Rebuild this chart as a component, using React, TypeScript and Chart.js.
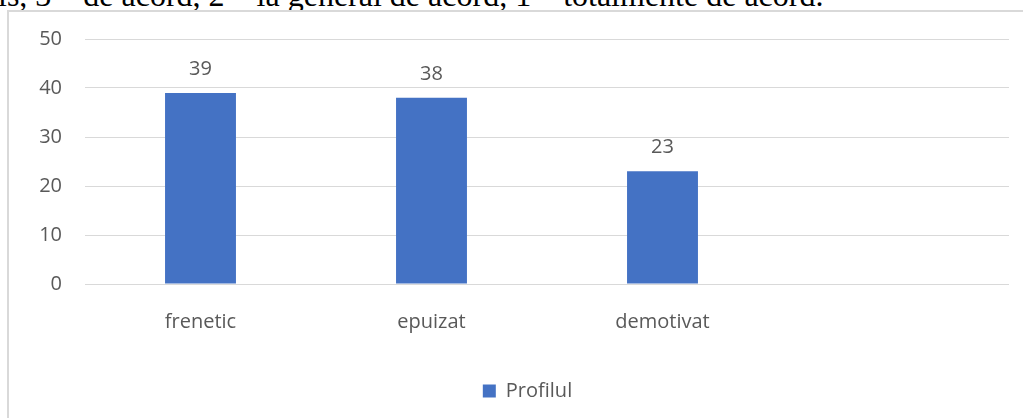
import React, { useEffect, useRef } from "react";
import { Chart, registerables } from "chart.js";

Chart.register(...registerables);

const categories: string[] = ["frenetic", "epuizat", "demotivat", ""];
const profilulValues: (number | null)[] = [39, 38, 23, null];
const seriesLabel = "Profilul";
const yTicksMin = 0;
const yTicksMax = 50;
const yTickStep = 10;
const headerText = "ls, 3 – de acord, 2 – la general de acord, 1 – totalmente de acord.";

const TEXT_GRAY = "#595959";
const GRID_GRAY = "#d9d9d9";
const BAR_BLUE = "#4472C4";
const FONT_FAMILY = "'Open Sans', 'Noto Sans', sans-serif";
const LEGEND_SHIFT = 23;

const valueLabelPlugin = {
  id: "valueLabels",
  afterDatasetsDraw(chart: any) {
    const ctx = chart.ctx;
    ctx.save();
    ctx.fillStyle = TEXT_GRAY;
    ctx.font = `20px ${FONT_FAMILY}`;
    ctx.textAlign = "center";
    ctx.textBaseline = "middle";
    chart.data.datasets.forEach((ds: any, di: number) => {
      const meta = chart.getDatasetMeta(di);
      meta.data.forEach((el: any, i: number) => {
        const v = ds.data[i];
        if (v === null || v === undefined) return;
        ctx.fillText(String(v), el.x, el.y - 24);
      });
    });
    ctx.restore();
  },
};

const legendShiftPlugin = {
  id: "legendShift",
  afterLayout(chart: any) {
    const lg = chart.legend;
    if (lg) {
      lg.left += LEGEND_SHIFT;
      lg.right += LEGEND_SHIFT;
    }
  },
};

export default function App() {
  const canvasRef = useRef<HTMLCanvasElement | null>(null);

  useEffect(() => {
    if (!canvasRef.current) return;
    const chart = new Chart(canvasRef.current, {
      type: "bar",
      data: {
        labels: categories,
        datasets: [
          {
            label: seriesLabel,
            data: profilulValues,
            backgroundColor: BAR_BLUE,
            borderWidth: 0,
            barPercentage: 0.307,
            categoryPercentage: 1,
          },
        ],
      },
      options: {
        animation: false,
        responsive: false,
        maintainAspectRatio: false,
        layout: { padding: { top: 39, right: 14, bottom: 7, left: 0 } },
        plugins: {
          tooltip: { enabled: false },
          legend: {
            display: true,
            position: "bottom",
            labels: {
              boxWidth: 13,
              boxHeight: 13,
              padding: 10,
              color: TEXT_GRAY,
              font: { size: 20, family: FONT_FAMILY },
            },
          },
        },
        scales: {
          x: {
            grid: { display: false, drawTicks: false },
            border: { display: false },
            ticks: {
              color: TEXT_GRAY,
              font: { size: 20, family: FONT_FAMILY },
              padding: 26,
              maxRotation: 0,
            },
            afterFit: (scale: any) => {
              scale.height = 87;
            },
          },
          y: {
            min: yTicksMin,
            max: yTicksMax,
            ticks: {
              stepSize: yTickStep,
              color: TEXT_GRAY,
              font: { size: 20, family: FONT_FAMILY },
              padding: 23,
            },
            grid: { color: GRID_GRAY, lineWidth: 1, drawTicks: false },
            border: { display: false },
            afterFit: (scale: any) => {
              scale.width = 85;
            },
          },
        },
      },
      plugins: [valueLabelPlugin, legendShiftPlugin],
    });
    return () => chart.destroy();
  }, []);

  return (
    <div
      style={{
        position: "fixed",
        left: 0,
        top: 0,
        width: 1023,
        height: 418,
        overflow: "hidden",
        background: "#ffffff",
      }}
    >
      <div
        style={{
          position: "absolute",
          left: -2,
          top: -21,
          fontFamily: "'Liberation Serif', 'Times New Roman', serif",
          fontSize: 32,
          lineHeight: "32px",
          color: "#000",
          whiteSpace: "nowrap",
        }}
      >
        {headerText}
      </div>
      <div
        style={{
          position: "absolute",
          left: 7,
          top: 10,
          width: 1100,
          height: 500,
          borderLeft: `2px solid ${GRID_GRAY}`,
          borderTop: `2px solid ${GRID_GRAY}`,
          boxSizing: "border-box",
          background: "#ffffff",
        }}
      />
      <canvas
        ref={canvasRef}
        width={1023}
        height={418}
        style={{ position: "absolute", left: 0, top: 0, width: 1023, height: 418 }}
      />
    </div>
  );
}
